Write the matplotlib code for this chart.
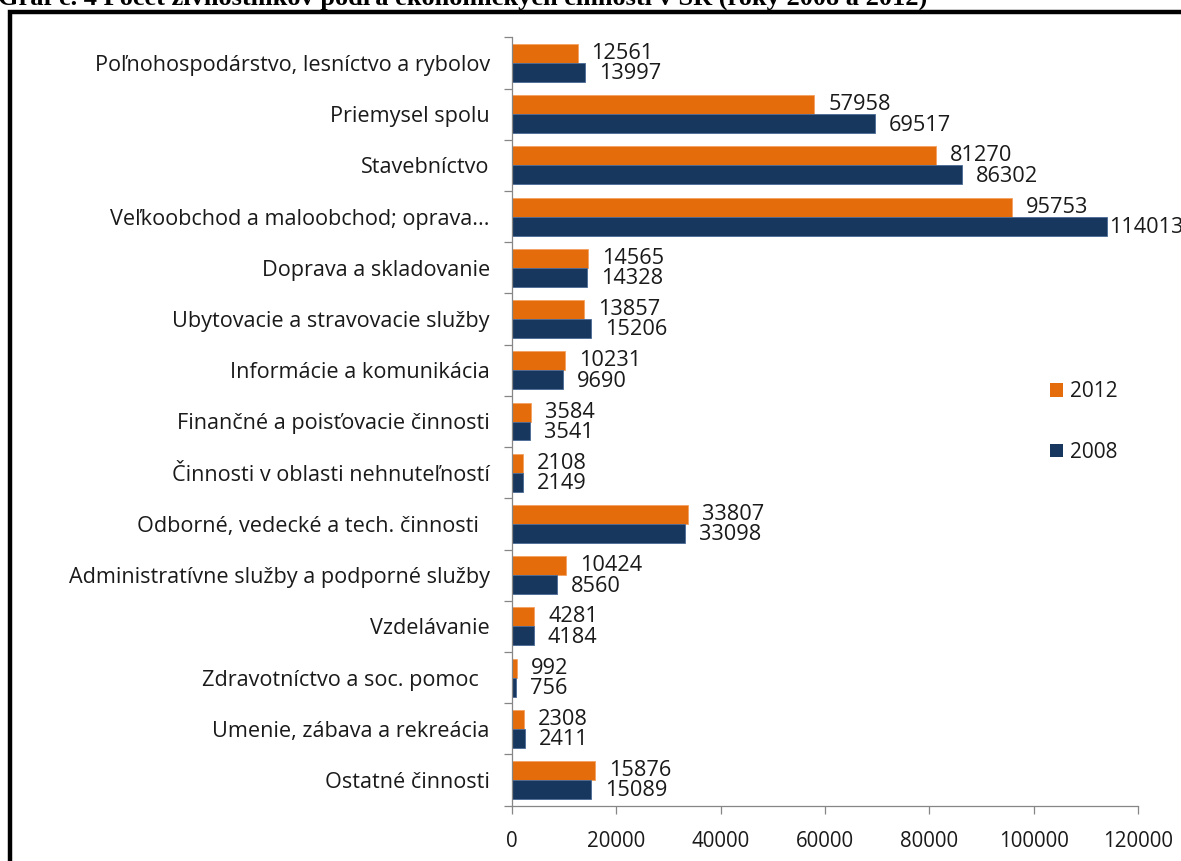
import matplotlib
matplotlib.use("Agg")
import matplotlib.pyplot as plt
from matplotlib.patches import Patch, Rectangle
import numpy as np

categories = [
    "Poľnohospodárstvo, lesníctvo a rybolov",
    "Priemysel spolu",
    "Stavebníctvo",
    "Veľkoobchod a maloobchod; oprava...",
    "Doprava a skladovanie",
    "Ubytovacie a stravovacie služby",
    "Informácie a komunikácia",
    "Finančné a poisťovacie činnosti",
    "Činnosti v oblasti nehnuteľností",
    "Odborné, vedecké a tech. činnosti  ",
    "Administratívne služby a podporné služby",
    "Vzdelávanie",
    "Zdravotníctvo a soc. pomoc  ",
    "Umenie, zábava a rekreácia",
    "Ostatné činnosti",
]
values_2012 = [12561, 57958, 81270, 95753, 14565, 13857, 10231, 3584, 2108,
               33807, 10424, 4281, 992, 2308, 15876]
values_2008 = [13997, 69517, 86302, 114013, 14328, 15206, 9690, 3541, 2149,
               33098, 8560, 4184, 756, 2411, 15089]
series_labels = ["2012", "2008"]
x_ticks = [0, 20000, 40000, 60000, 80000, 100000, 120000]
title = "Graf č. 4 Počet živnostníkov podľa ekonomických činností v SR (roky 2008 a 2012)"

c2012 = "#E46C0A"
c2008 = "#17375E"
txt = "#1a1a1a"
grey = "#868686"
FONT = ["Open Sans", "DejaVu Sans"]

W, H = 1181, 861
fig = plt.figure(figsize=(W / 100, H / 100), dpi=100)
fig.patch.set_facecolor("white")

ax = fig.add_axes([512 / W, 1 - 805.7 / H, (1138 - 512) / W, (805.7 - 37.3) / H])

n = len(categories)
y = np.arange(n)
bh = 0.37
xmax = 120000
ax.barh(y - bh / 2, values_2012, height=bh, color=c2012, edgecolor="#F4A060", linewidth=0.6)
ax.barh(y + bh / 2, values_2008, height=bh, color=c2008, edgecolor="#4A6A95", linewidth=0.6)

for i in range(n):
    off12 = 10 if values_2012[i] < 0.9 * xmax else 2
    off08 = 10 if values_2008[i] < 0.9 * xmax else 2
    ax.annotate(f"{values_2012[i]}", (values_2012[i], y[i] - bh / 2), xytext=(off12, 0),
                textcoords="offset points", va="center", ha="left", fontsize=15.7,
                color=txt, family=FONT)
    ax.annotate(f"{values_2008[i]}", (values_2008[i], y[i] + bh / 2), xytext=(off08, -1),
                textcoords="offset points", va="center", ha="left", fontsize=15.7,
                color=txt, family=FONT, annotation_clip=False)

ax.set_xlim(0, xmax)
ax.set_ylim(n - 0.5, -0.5)

ax.set_xticks(x_ticks)
ax.set_xticklabels([str(t) for t in x_ticks], family=FONT, fontsize=14.8, color=txt)
ax.tick_params(axis="x", direction="out", length=6, width=0.9, color=grey, pad=12)

ax.set_yticks(np.arange(n + 1) - 0.5)
ax.set_yticklabels([])
ax.set_yticks(y, minor=True)
ax.set_yticklabels(categories, minor=True, family=FONT, fontsize=15.6, color=txt)
ax.tick_params(axis="y", which="major", direction="out", length=6, width=0.9, color=grey)
ax.tick_params(axis="y", which="minor", length=0, pad=16)

for s in ["top", "right"]:
    ax.spines[s].set_visible(False)
for s in ["left", "bottom"]:
    ax.spines[s].set_color(grey)
    ax.spines[s].set_linewidth(0.9)

handles = [Patch(facecolor=c2012, edgecolor="none"), Patch(facecolor=c2008, edgecolor="none")]
leg = fig.legend(handles, series_labels, loc="center left",
                 bbox_to_anchor=(1031 / W, 1 - 422 / H), frameon=False,
                 prop={"family": FONT, "size": 15}, handlelength=0.62, handleheight=0.62,
                 handletextpad=0.35, labelspacing=1.9)
for t in leg.get_texts():
    t.set_color(txt)

# outer thick border (partially cropped)
fig.patches.append(Rectangle((10 / W, -0.05), 1.05, 1 - 12 / H + 0.05, transform=fig.transFigure,
                             fill=False, edgecolor="black", linewidth=3.2))

fig.text(-2 / W, 1 - 5 / H, title, ha="left", va="baseline", fontsize=19,
         fontweight="bold", family=["Liberation Serif", "DejaVu Serif"], color="black")

fig.savefig("out.png", dpi=100)
